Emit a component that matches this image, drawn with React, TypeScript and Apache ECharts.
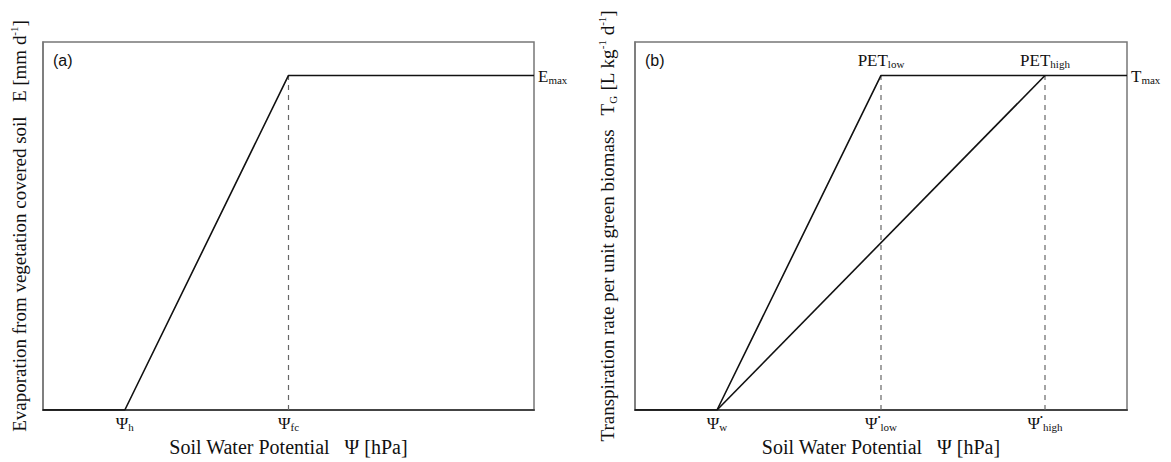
import React, { useEffect, useRef } from "react";
import * as echarts from "echarts";

// ---- data (abstract units: x 0..6, y 0..1.1) ----
const X_MAX = 6;
const Y_MAX = 1.1;

// Panel (a): evaporation
const evapX = [0, 1, 3, 6];
const evapY = [0, 0, 1, 1];
const evapTicks = [1, 3];
const evapTickLabels = ["{p|Ψ}{s|h}", "{p|Ψ}{s|fc}"];
const evapDropX = [3];

// Panel (b): transpiration
const lowX = [0, 1, 3, 6];
const lowY = [0, 0, 1, 1];
const highX = [1, 5];
const highY = [0, 1];
const transTicks = [1, 3, 5];
const transTickLabels = ["{p|Ψ}{s|w}", "{p|Ψ}{t|•}{s|low}", "{p|Ψ}{t|•}{s|high}"];
const transDropX = [3, 5];

const SERIF = "'Liberation Serif', 'Times New Roman', serif";

const richStyles = {
  p: { fontFamily: SERIF, fontSize: 17, color: "#111", lineHeight: 19, verticalAlign: "bottom" },
  s: { fontFamily: SERIF, fontSize: 11, color: "#111", lineHeight: 17, verticalAlign: "bottom" },
  t: { fontFamily: SERIF, fontSize: 8, color: "#111", lineHeight: 19, verticalAlign: "top" },
  e: { fontFamily: SERIF, fontSize: 17, color: "#111", lineHeight: 20, verticalAlign: "bottom" },
  m: { fontFamily: SERIF, fontSize: 11, color: "#111", lineHeight: 17, verticalAlign: "bottom" },
  sup: { fontFamily: SERIF, fontSize: 11, color: "#111", lineHeight: 22, verticalAlign: "top" },
  g: { fontFamily: SERIF, fontSize: 11, color: "#111", lineHeight: 16, verticalAlign: "bottom" },
};

function App() {
  const ref = useRef<HTMLDivElement>(null);
  useEffect(() => {
    if (!ref.current) return;
    const chart = echarts.init(ref.current, null, { renderer: "svg" });

    const mkX = (gi: number, ticks: number[], labels: string[]) => ({
      type: "value",
      gridIndex: gi,
      min: 0,
      max: X_MAX,
      splitLine: { show: false },
      axisTick: { show: false },
      axisLine: { show: true, lineStyle: { color: "#444", width: 2 } },
      axisLabel: {
        customValues: ticks,
        margin: 3,
        formatter: (v: number) => {
          const i = ticks.indexOf(v);
          return i >= 0 ? labels[i] : "";
        },
        rich: richStyles,
      },
      name: "Soil Water Potential   Ψ [hPa]",
      nameLocation: "middle",
      nameGap: 18,
      nameTextStyle: { fontFamily: SERIF, fontSize: 20, color: "#111" },
    });

    const mkY = (gi: number, name: string, gap: number) => ({
      type: "value",
      gridIndex: gi,
      min: 0,
      max: Y_MAX,
      splitLine: { show: false },
      axisTick: { show: false },
      axisLabel: { show: false },
      axisLine: { show: true, lineStyle: { color: "#777", width: 1.5 } },
      name,
      nameLocation: "middle",
      nameGap: gap,
      nameTextStyle: { fontFamily: SERIF, fontSize: 19, color: "#111", rich: richStyles },
    });

    const solid = { color: "#111", width: 1.6 };
    const dashed = { color: "#666", width: 1.2, type: [5, 5] };

    const pts = (xs: number[], ys: number[]) => xs.map((x, i) => [x, ys[i]]);
    const drops = (xs: number[]) => xs.map((x) => [[x, 0], [x, 1]]);

    const labelItem = (x: number, y: number, fmt: string, pos: string, dist: number) => ({
      value: [x, y],
      symbolSize: 0,
      label: { show: true, position: pos, distance: dist, formatter: fmt, rich: richStyles },
    });

    const evapData: any[] = pts(evapX, evapY);
    evapData[evapData.length - 1] = labelItem(
      evapX[evapX.length - 1], evapY[evapY.length - 1], "{e|E}{m|max}", "right", 4
    );
    const lowData: any[] = pts(lowX, lowY);
    lowData[2] = labelItem(lowX[2], lowY[2], "{e|PET}{m|low}", "top", 6);
    lowData[lowData.length - 1] = labelItem(
      lowX[lowX.length - 1], lowY[lowY.length - 1], "{e|T}{m|max}", "right", 4
    );
    const highData: any[] = pts(highX, highY);
    highData[1] = labelItem(highX[1], highY[1], "{e|PET}{m|high}", "top", 6);

    const series: any[] = [];
    drops(evapDropX).forEach((d) =>
      series.push({ type: "line", xAxisIndex: 0, yAxisIndex: 0, data: d, showSymbol: false, lineStyle: dashed, silent: true })
    );
    drops(transDropX).forEach((d) =>
      series.push({ type: "line", xAxisIndex: 1, yAxisIndex: 1, data: d, showSymbol: false, lineStyle: dashed, silent: true })
    );
    series.push({
      type: "line", xAxisIndex: 0, yAxisIndex: 0, data: evapData,
      symbol: "circle", symbolSize: 0, showSymbol: true, lineStyle: solid, itemStyle: { color: "#111" },
    });
    series.push({
      type: "line", xAxisIndex: 1, yAxisIndex: 1, data: lowData,
      symbol: "circle", symbolSize: 0, showSymbol: true, lineStyle: solid, itemStyle: { color: "#111" },
    });
    series.push({
      type: "line", xAxisIndex: 1, yAxisIndex: 1, data: highData,
      symbol: "circle", symbolSize: 0, showSymbol: true, lineStyle: solid, itemStyle: { color: "#111" },
    });

    chart.setOption({
      animation: false,
      backgroundColor: "#fff",
      grid: [
        { left: 43, top: 42, width: 491, height: 368, show: true, borderColor: "#777", borderWidth: 1.5, outerBoundsMode: "none", containLabel: false },
        { left: 635, top: 42, width: 492, height: 368, show: true, borderColor: "#777", borderWidth: 1.5, outerBoundsMode: "none", containLabel: false },
      ],
      xAxis: [mkX(0, evapTicks, evapTickLabels), mkX(1, transTicks, transTickLabels)],
      yAxis: [
        mkY(0, "Evaporation from vegetation covered soil   E [mm d{sup|-1}]", 13),
        mkY(1, "Transpiration rate per unit green biomass   T{g|G} [L kg{sup|-1} d{sup|-1}]", 17),
      ],
      graphic: [
        { type: "text", left: 53, top: 52, style: { text: "(a)", font: "16px 'Liberation Sans', Arial, sans-serif", fill: "#111" } },
        { type: "text", left: 645, top: 52, style: { text: "(b)", font: "16px 'Liberation Sans', Arial, sans-serif", fill: "#111" } },
      ],
      series,
    });
    return () => chart.dispose();
  }, []);
  return (
    <div
      ref={ref}
      style={{ position: "fixed", left: 0, top: 0, width: 1171, height: 462, background: "#fff" }}
    />
  );
}

export default App;
